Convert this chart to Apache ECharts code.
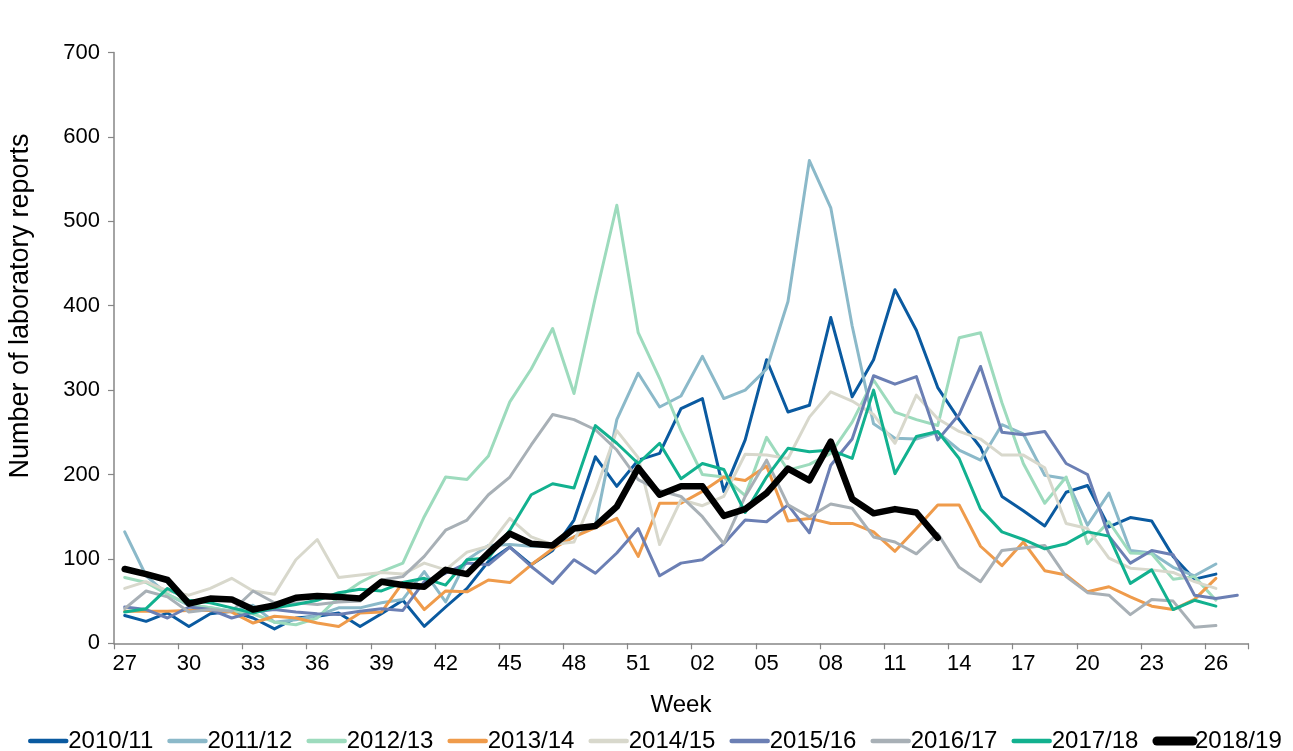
<!DOCTYPE html>
<html>
<head>
<meta charset="utf-8">
<script src="https://cdn.jsdelivr.net/npm/echarts@6/dist/echarts.min.js"></script>
<style>html,body{margin:0;padding:0;background:#fff}#chart{width:1293px;height:751px}</style>
</head>
<body>
<div id="chart"></div>
<script>
var weeks = ['27','28','29','30','31','32','33','34','35','36','37','38','39','40','41','42','43','44','45','46','47','48','49','50','51','52',
             '01','02','03','04','05','06','07','08','09','10','11','12','13','14','15','16','17','18','19','20','21','22','23','24','25','26',''];
var seasons = ['2010/11','2011/12','2012/13','2013/14','2014/15','2015/16','2016/17','2017/18','2018/19'];
var s1011 = [33,26,36,20,35,38,30,17,30,32,36,20,35,51,20,43,65,97,114,93,110,146,221,186,217,225,278,290,180,241,336,274,282,386,292,336,419,371,303,265,232,174,157,139,179,187,138,149,145,103,76,82];
var s1112 = [132,80,58,45,42,38,45,25,28,33,42,42,48,52,85,49,99,116,117,115,115,126,140,265,320,280,293,340,290,300,325,405,572,516,376,260,243,242,250,229,217,259,248,199,195,140,178,110,107,90,80,94];
var s1213 = [78,72,58,46,42,38,35,25,22,30,55,72,85,95,150,197,194,222,286,325,373,296,410,519,368,314,252,200,197,175,244,205,212,225,262,312,274,265,258,362,368,285,213,166,197,118,144,107,106,76,79,51];
var s1314 = [38,38,38,39,39,37,24,32,30,24,20,36,37,72,40,62,61,75,72,93,112,126,137,148,103,166,166,180,197,193,210,145,148,142,142,132,109,136,164,164,115,92,120,86,81,61,67,55,44,40,52,77];
var s1415 = [65,73,62,57,65,77,62,58,99,123,78,81,84,82,95,87,108,115,148,126,117,120,180,252,220,117,170,163,174,224,223,219,268,298,287,271,237,294,266,251,242,223,223,208,142,136,101,89,87,84,73,65];
var s1516 = [43,40,30,43,40,30,37,40,37,35,34,38,41,39,73,83,95,93,114,91,71,99,83,107,136,80,95,99,118,146,144,164,131,211,242,317,307,316,241,271,328,250,247,251,213,200,127,95,110,105,57,53,57];
var s1617 = [41,62,55,37,40,38,62,48,48,46,49,50,75,79,103,134,146,176,197,235,271,265,253,229,194,181,174,150,118,174,217,164,150,165,160,126,120,106,130,90,73,110,113,116,79,60,57,34,52,50,19,21];
var s1718 = [37,41,65,51,48,42,36,42,46,51,60,64,62,72,77,69,99,101,134,176,189,184,258,237,213,237,195,213,206,155,197,231,227,229,219,300,201,245,251,219,159,132,123,112,118,132,127,71,87,40,51,44];
var s1819 = [88,82,75,47,53,52,40,45,54,56,55,53,73,69,67,87,82,107,130,118,116,136,139,162,208,176,186,186,151,159,178,207,193,239,171,154,159,155,125];
var yTicks = [0,100,200,300,400,500,600,700];

var allData = [s1011,s1112,s1213,s1314,s1415,s1516,s1617,s1718,s1819];
var colors = ['#0a5aa0','#8bb9c9','#9ddbbd','#ef9b4b','#d8d8cc','#6b7fb4','#a8b0b6','#12b18f','#000000'];
var FONT = 'Liberation Sans, Arial, sans-serif';

var series = seasons.map(function(name, i){
  return {
    name: name,
    type: 'line',
    data: allData[i],
    symbol: 'none',
    showSymbol: false,
    smooth: false,
    z: 2 + i,
    lineStyle: {color: colors[i], width: i === 8 ? 6.5 : 3, join: 'round', cap: 'round'},
    itemStyle: {color: colors[i]}
  };
});

var legendData = seasons.map(function(name, i){
  return {
    name: name,
    itemStyle: {opacity: 0},
    lineStyle: {color: colors[i], width: i === 8 ? 9 : 4.5, cap: 'round'}
  };
});

var chart = echarts.init(document.getElementById('chart'));
chart.setOption({
  animation: false,
  backgroundColor: '#ffffff',
  color: colors,
  grid: {left: 114, right: 45, top: 52.5, bottom: 107.7, containLabel: false},
  xAxis: {
    type: 'category',
    data: weeks,
    boundaryGap: true,
    name: 'Week',
    nameLocation: 'middle',
    nameGap: 50,
    nameTextStyle: {fontFamily: FONT, fontSize: 24, color: '#000'},
    axisLine: {lineStyle: {color: '#868686', width: 1.5}},
    axisTick: {show: true, interval: 2, alignWithLabel: false, length: 6, lineStyle: {color: '#868686', width: 1.2}},
    axisLabel: {interval: 2, fontFamily: FONT, fontSize: 22, color: '#000', margin: 10},
    splitLine: {show: false}
  },
  yAxis: {
    type: 'value',
    min: yTicks[0],
    max: yTicks[yTicks.length - 1],
    interval: 100,
    axisLine: {show: true, lineStyle: {color: '#868686', width: 1.5}},
    axisTick: {show: true, length: 6, lineStyle: {color: '#868686', width: 1.2}},
    axisLabel: {fontFamily: FONT, fontSize: 22, color: '#000', margin: 14},
    splitLine: {show: false}
  },
  legend: {
    data: legendData,
    left: 23,
    top: 724,
    width: 1290,
    padding: 5,
    itemWidth: 36,
    itemHeight: 14,
    itemGap: 14,
    textStyle: {fontFamily: FONT, fontSize: 24, color: '#000', padding: [0,0,0,-3]}
  },
  graphic: [{
    type: 'text',
    x: 21,
    y: 306,
    rotation: Math.PI / 2,
    style: {
      text: 'Number of laboratory reports',
      fontFamily: FONT,
      fontSize: 27,
      fill: '#000',
      align: 'center',
      verticalAlign: 'middle'
    }
  }],
  series: series
});
</script>
</body>
</html>
